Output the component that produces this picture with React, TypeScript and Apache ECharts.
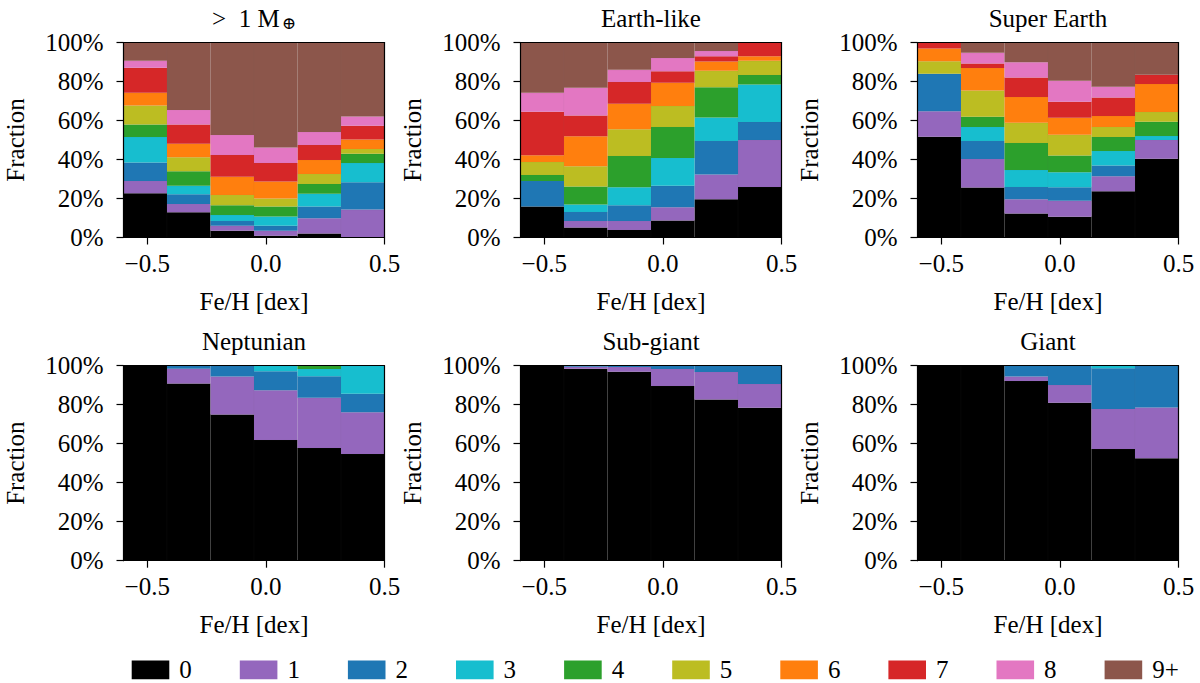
import { useRef, useEffect } from 'react';
import * as echarts from 'echarts';

const FONT = 'Liberation Serif, DejaVu Serif, serif';
const FS = 25;

// planet multiplicity classes
const classNames = ['0', '1', '2', '3', '4', '5', '6', '7', '8', '9+'];
const classColors = ['#000000', '#9467bd', '#1f77b4', '#17becf', '#2ca02c', '#bcbd22', '#ff7f0e', '#d62728', '#e377c2', '#8c564b'];

// Fe/H bins (dex)
const binEdges = [-0.6, -0.4167, -0.2333, -0.05, 0.1333, 0.3167, 0.5];
const xTicks = [-0.5, 0, 0.5];

const panelTitles = ['>  1 M{s|⊕}', 'Earth-like', 'Super Earth', 'Neptunian', 'Sub-giant', 'Giant'];

// percent per class (rows: class 0..9+, cols: the 6 Fe/H bins)
const fracAbove1 = [
    [22.7, 13.0, 3.4, 0.9, 2.0, 0.3],
    [6.3, 4.2, 2.6, 2.5, 7.9, 14.0],
    [9.4, 5.0, 2.5, 2.6, 6.0, 14.0],
    [13.1, 4.3, 3.1, 4.8, 6.6, 9.9],
    [6.5, 7.5, 5.0, 5.1, 5.0, 4.8],
    [9.7, 7.1, 5.2, 4.1, 5.1, 2.4],
    [6.5, 7.0, 9.4, 8.7, 7.2, 4.8],
    [12.8, 9.9, 11.1, 9.5, 7.6, 7.1],
    [3.6, 7.4, 10.3, 7.9, 6.7, 4.8],
    [9.4, 34.6, 47.4, 53.9, 45.9, 37.9],
];
const fracEarthLike = [
    [15.9, 5.1, 3.9, 8.7, 19.6, 25.9],
    [0, 3.4, 4.6, 6.8, 12.7, 24.1],
    [13.1, 4.6, 8.1, 11.1, 17.2, 9.2],
    [0, 3.8, 9.2, 14.2, 12.1, 19.3],
    [3.1, 9.2, 16.0, 15.9, 15.5, 4.8],
    [6.6, 10.4, 13.7, 10.7, 8.4, 7.3],
    [3.5, 15.4, 13.1, 12.0, 4.8, 2.4],
    [22.3, 10.7, 11.1, 5.9, 2.7, 7.0],
    [9.7, 14.2, 6.3, 6.7, 2.7, 0],
    [25.8, 23.2, 14.0, 8.0, 4.3, 0],
];
const fracSuperEarth = [
    [51.7, 25.6, 12.3, 10.6, 23.7, 40.4],
    [13.0, 14.7, 7.3, 8.2, 7.7, 9.6],
    [19.3, 9.2, 6.3, 7.0, 5.5, 0],
    [0, 7.2, 8.7, 7.6, 7.5, 2.0],
    [0, 5.2, 13.9, 8.6, 7.1, 7.4],
    [6.4, 13.5, 10.4, 10.7, 5.2, 4.9],
    [6.5, 11.5, 13.1, 8.7, 5.6, 14.4],
    [3.1, 2.3, 10.1, 8.2, 9.5, 4.7],
    [0, 5.5, 7.8, 10.8, 5.5, 0],
    [0, 5.3, 10.1, 19.6, 22.7, 16.6],
];
const fracNeptunian = [
    [100, 90.9, 75.0, 61.9, 57.8, 54.7],
    [0, 7.6, 19.4, 25.5, 25.8, 21.4],
    [0, 1.5, 5.6, 9.7, 11.0, 9.5],
    [0, 0, 0, 2.9, 3.7, 14.4],
    [0, 0, 0, 0, 1.7, 0],
];
const fracSubGiant = [
    [100, 98.5, 96.9, 89.6, 82.7, 78.5],
    [0, 1.0, 2.4, 8.7, 14.1, 12.1],
    [0, 0.5, 0.7, 1.7, 3.2, 9.4],
];
const fracGiant = [
    [100, 100, 92.1, 81.0, 57.3, 52.5],
    [0, 0, 2.3, 9.1, 20.5, 26.1],
    [0, 0, 5.6, 9.9, 20.9, 21.4],
    [0, 0, 0, 0, 1.3, 0],
];

const panels = [fracAbove1, fracEarthLike, fracSuperEarth, fracNeptunian, fracSubGiant, fracGiant];

// layout
const gridLefts = [123.5, 520.5, 917.5];
const gridTops = [42.5, 365.7];
const gridW = 261;
const gridH = 195;

const fmtX = (v: number) => (v < 0 ? '\u2212' : '') + Math.abs(v).toFixed(1);

const buildOption = () => {
    const grid: any[] = [];
    const xAxis: any[] = [];
    const yAxis: any[] = [];
    const series: any[] = [];
    const graphic: any[] = [];
    const axisLine = { show: true, onZero: false, lineStyle: { color: '#000', width: 1.2 } };
    const labelStyle = { color: '#000', fontSize: FS, fontFamily: FONT };

    panels.forEach((p, i) => {
        const left = gridLefts[i % 3];
        const top = gridTops[Math.floor(i / 3)];
        grid.push({ left, top, width: gridW, height: gridH });

        xAxis.push({
            type: 'value', gridIndex: i, min: -0.6, max: 0.5, z: 5,
            axisLine,
            axisTick: { show: true, length: 7, customValues: xTicks, lineStyle: { color: '#000', width: 1.2 } },
            axisLabel: { ...labelStyle, customValues: xTicks, formatter: fmtX, margin: 13 },
            splitLine: { show: false },
        });
        yAxis.push({
            type: 'value', gridIndex: i, min: 0, max: 100, interval: 20, z: 5,
            axisLine,
            axisTick: { show: true, length: 7, lineStyle: { color: '#000', width: 1.2 } },
            axisLabel: { ...labelStyle, formatter: '{value}%', margin: 20 },
            splitLine: { show: false },
        });

        p.forEach((row, ci) => {
            const data: number[][] = [];
            row.forEach((v, b) => {
                if (v <= 0) return;
                let bottom = 0;
                for (let k = 0; k < ci; k++) bottom += p[k][b];
                data.push([binEdges[b], binEdges[b + 1], bottom, bottom + v]);
            });
            series.push({
                type: 'custom',
                name: classNames[ci],
                xAxisIndex: i,
                yAxisIndex: i,
                clip: true,
                z: 2,
                itemStyle: { color: classColors[ci] },
                encode: { x: [0, 1], y: [2, 3] },
                renderItem: (params: any, api: any) => {
                    const a = api.coord([api.value(0), api.value(2)]);
                    const c = api.coord([api.value(1), api.value(3)]);
                    return {
                        type: 'rect',
                        shape: { x: a[0], y: c[1], width: c[0] - a[0], height: a[1] - c[1] },
                        style: { fill: api.visual('color'), stroke: 'rgba(128,128,128,0.08)', lineWidth: 0.5 },
                    };
                },
                data,
            });
        });

        // titles and axis names
        graphic.push({
            type: 'text', z: 10,
            style: {
                x: left + gridW / 2, y: top - 24, text: panelTitles[i],
                align: 'center', verticalAlign: 'middle', fill: '#000', fontSize: FS, fontFamily: FONT,
                rich: { s: { fontSize: 17, fontFamily: 'DejaVu Serif', verticalAlign: 'bottom', padding: [0, 0, 0, 2] } },
            },
        });
        graphic.push({
            type: 'text', z: 10, x: left - 108, y: top + gridH / 2, rotation: Math.PI / 2,
            style: { x: 0, y: 0, text: 'Fraction', align: 'center', verticalAlign: 'middle', fill: '#000', fontSize: FS, fontFamily: FONT },
        });
        graphic.push({
            type: 'text', z: 10,
            style: { x: left + gridW / 2, y: top + gridH + 64, text: 'Fe/H [dex]', align: 'center', verticalAlign: 'middle', fill: '#000', fontSize: FS, fontFamily: FONT },
        });
    });

    // frame: top and right spines
    panels.forEach((_, i) => {
        xAxis.push({ type: 'value', gridIndex: i, position: 'top', min: -0.6, max: 0.5, z: 5, axisLine, axisTick: { show: false }, axisLabel: { show: false }, splitLine: { show: false } });
        yAxis.push({ type: 'value', gridIndex: i, position: 'right', min: 0, max: 100, z: 5, axisLine, axisTick: { show: false }, axisLabel: { show: false }, splitLine: { show: false } });
    });

    return {
        animation: false,
        backgroundColor: '#fff',
        textStyle: { fontFamily: FONT },
        grid,
        xAxis,
        yAxis,
        series,
        graphic,
        legend: {
            data: classNames,
            left: 131.7,
            top: 657.3,
            width: 1068,
            padding: 0,
            itemWidth: 37.6,
            itemHeight: 18.7,
            itemGap: 48,
            icon: 'rect',
            selectedMode: false,
            textStyle: { color: '#000', fontSize: FS, fontFamily: FONT, padding: [0, 0, 0, 5] },
        },
    };
};

const App = () => {
    const chartRef = useRef<HTMLDivElement>(null);

    useEffect(() => {
        if (!chartRef.current) return;
        const chart = echarts.init(chartRef.current, null, { renderer: 'svg' });
        chart.setOption(buildOption());
        return () => {
            chart.dispose();
        };
    }, []);

    return (
        <div ref={chartRef} style={{ position: 'fixed', left: 0, top: 0, width: 1200, height: 683, background: '#fff' }} />
    );
};

export default App;
